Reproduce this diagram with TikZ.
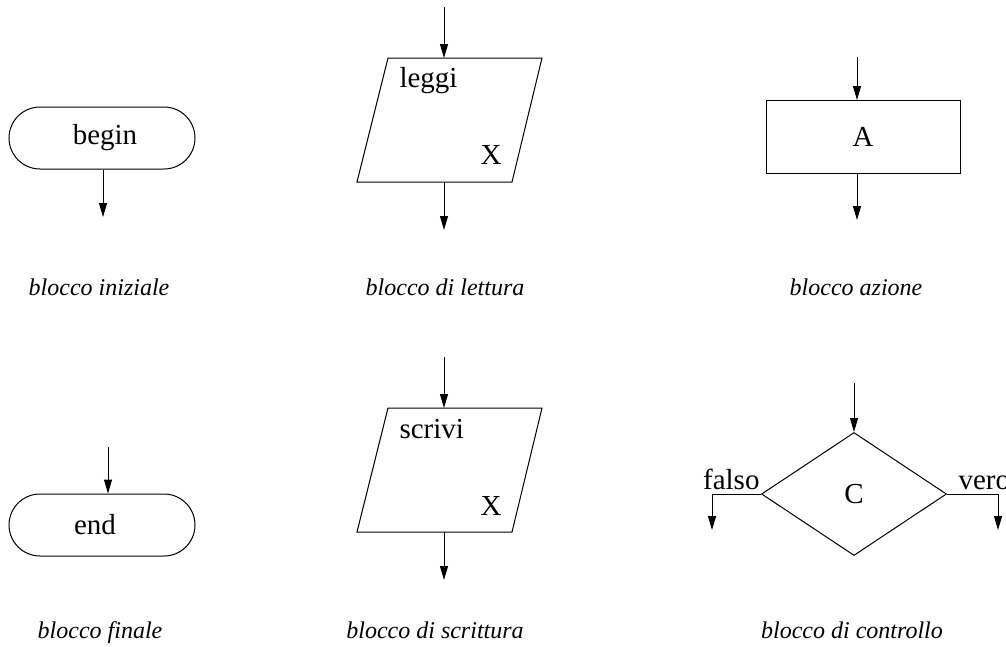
\documentclass[tikz,border=0pt]{standalone}
\usepackage{fontspec}
\setmainfont{Liberation Serif}
\usetikzlibrary{arrows.meta,shapes.geometric}
\begin{document}
\begin{tikzpicture}[x=1pt,y=-1pt,line width=1pt,
  flow/.style={-{Triangle[length=14pt,width=8pt]}},
  blockfont/.style={font=\fontsize{29}{32}\selectfont},
  terminal/.style={draw,blockfont,rounded corners=31pt,minimum width=186pt,
    minimum height=62pt,inner sep=0pt},
  action/.style={draw,blockfont,minimum width=194pt,minimum height=73pt,inner sep=0pt},
  decision/.style={draw,blockfont,diamond,aspect=1.5,minimum width=185pt,
    minimum height=123pt,inner sep=0pt},
  blocktext/.style={blockfont,inner sep=0pt,anchor=base west},
  caption/.style={font=\fontsize{24}{28}\selectfont\itshape,inner sep=0pt,anchor=base}]
\useasboundingbox (0,0) rectangle (1006,646);

% --- start block ---
\node[terminal] (begin) at (102,138) {begin\kern-6pt};
\coordinate (beginout) at (103,217);
\draw[flow] (beginout |- begin.south) -- (beginout);
\node[caption] (capbegin) at (99,295) {blocco iniziale};

% --- input block ---
\coordinate (r1) at (388,58);
\coordinate (r2) at (542,58);
\coordinate (r3) at (512,182);
\coordinate (r4) at (357,182);
\draw (r1) -- (r2) -- (r3) -- (r4) -- cycle;
\coordinate (readsrc) at (444,7);
\coordinate (readin) at (444,58);
\coordinate (readout) at (444,182);
\coordinate (readdst) at (444,230);
\draw[flow] (readsrc) -- (readin);
\draw[flow] (readout) -- (readdst);
\node[blocktext] (leggi) at (399,87) {leggi};
\node[blocktext] (readx) at (480,164) {X};
\node[caption] (capread) at (445,295) {blocco di lettura};

% --- action block ---
\node[action] (act) at (863,137) {A};
\coordinate (actsrc) at (857,57);
\coordinate (actdst) at (857,220);
\draw[flow] (actsrc) -- (actsrc |- act.north);
\draw[flow] (actsrc |- act.south) -- (actdst);
\node[caption] (capact) at (856,295) {blocco azione};

% --- end block ---
\node[terminal] (end) at (102,525) {\kern-14pt end};
\coordinate (endsrc) at (108,447);
\draw[flow] (endsrc) -- (endsrc |- end.north);
\node[caption] (capend) at (100,638) {blocco finale};

% --- output block ---
\coordinate (w1) at (388,408);
\coordinate (w2) at (542,408);
\coordinate (w3) at (512,532);
\coordinate (w4) at (357,532);
\draw (w1) -- (w2) -- (w3) -- (w4) -- cycle;
\coordinate (writesrc) at (444,357);
\coordinate (writein) at (444,408);
\coordinate (writeout) at (444,532);
\coordinate (writedst) at (444,580);
\draw[flow] (writesrc) -- (writein);
\draw[flow] (writeout) -- (writedst);
\node[blocktext] (scrivi) at (399,438) {scrivi};
\node[blocktext] (writex) at (480,515) {X};
\node[caption] (capwrite) at (435,638) {blocco di scrittura};

% --- decision block ---
\node[decision] (dec) at (854,494) {C};
\coordinate (decsrc) at (854,383);
\coordinate (falsedst) at (712,530);
\coordinate (truedst) at (998,530);
\draw[flow] (decsrc) -- (dec.north);
\draw[flow] (dec.west) -| (falsedst);
\draw[flow] (dec.east) -| (truedst);
\node[blocktext,anchor=base east] (falso) at (760,489) {falso};
\node[blocktext] (vero) at (958,489) {vero};
\node[caption] (capdec) at (852,638) {blocco di controllo};
\end{tikzpicture}
\end{document}
